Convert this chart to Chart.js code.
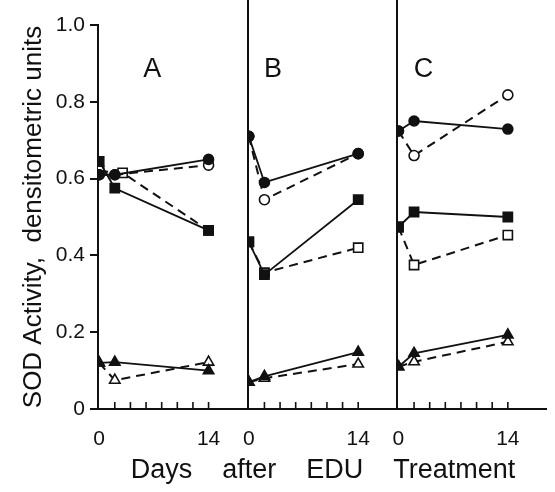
<!DOCTYPE html>
<html>
<head>
<meta charset="utf-8">
<script src="https://cdn.jsdelivr.net/npm/chart.js@4/dist/chart.umd.min.js"></script>
<style>
  body { margin: 0; background: #fff; }
  #wrap { width: 555px; height: 492px; position: relative; }
</style>
</head>
<body>
<div id="wrap"><canvas id="sod"></canvas></div>
<script>
// days after treatment at which samples were taken
const days = [0, 2, 14];
const daysOpenSquareA = [0, 3, 14];
const panels = ["A", "B", "C"];
const yTicks = [0, 0.2, 0.4, 0.6, 0.8, 1.0];
const xTitle = "Days    after    EDU    Treatment";

// panel A
const filledCircleA = [0.61, 0.61, 0.65];
const openCircleA = [0.61, 0.61, 0.635];
const filledSquareA = [0.645, 0.575, 0.465];
const openSquareA = [0.62, 0.615, 0.465];
const filledTriA = [0.12, 0.122, 0.10];
const openTriA = [0.12, 0.075, 0.122];

// panel B
const filledCircleB = [0.71, 0.59, 0.665];
const openCircleB = [0.71, 0.545, 0.665];
const filledSquareB = [0.435, 0.35, 0.545];
const openSquareB = [0.435, 0.355, 0.42];
const filledTriB = [0.07, 0.085, 0.148];
const openTriB = [0.07, 0.08, 0.117];

// panel C
const filledCircleC = [0.724, 0.75, 0.729];
const openCircleC = [0.724, 0.66, 0.818];
const filledSquareC = [0.474, 0.513, 0.50];
const openSquareC = [0.474, 0.375, 0.453];
const filledTriC = [0.11, 0.145, 0.193];
const openTriC = [0.11, 0.123, 0.175];

const INK = "#111";
const FONT = "'Liberation Sans', Arial, sans-serif";

function series(xs, ys, axis, style, filled) {
  return {
    data: ys.map((v, i) => ({ x: xs[i], y: v })),
    xAxisID: axis,
    borderColor: INK,
    borderWidth: filled ? 1.8 : 2,
    borderDash: filled ? [] : [9, 6],
    pointStyle: style,
    pointRadius: style === "rect" ? 6.5 : style === "triangle" ? 6 : 5,
    pointBorderWidth: 1.6,
    pointBackgroundColor: filled ? INK : "#fff",
    pointBorderColor: INK,
    fill: false,
    tension: 0,
  };
}

// Chart.js paints dataset 0 last, so the filled markers go first
const datasets = [
  series(days, filledCircleA, "xA", "circle", true),
  series(days, filledSquareA, "xA", "rect", true),
  series(days, filledTriA, "xA", "triangle", true),
  series(days, openCircleA, "xA", "circle", false),
  series(daysOpenSquareA, openSquareA, "xA", "rect", false),
  series(days, openTriA, "xA", "triangle", false),

  series(days, filledCircleB, "xB", "circle", true),
  series(days, filledSquareB, "xB", "rect", true),
  series(days, filledTriB, "xB", "triangle", true),
  series(days, openCircleB, "xB", "circle", false),
  series(days, openSquareB, "xB", "rect", false),
  series(days, openTriB, "xB", "triangle", false),

  series(days, filledCircleC, "xC", "circle", true),
  series(days, filledSquareC, "xC", "rect", true),
  series(days, filledTriC, "xC", "triangle", true),
  series(days, openCircleC, "xC", "circle", false),
  series(days, openSquareC, "xC", "rect", false),
  series(days, openTriC, "xC", "triangle", false),
];

function xScale() {
  return {
    type: "linear",
    position: "bottom",
    stack: "days",
    stackWeight: 1,
    min: -0.15,
    max: 19,
    afterBuildTicks: (s) => {
      s.ticks = [0, 2, 4, 6, 8, 10, 12, 14].map((v) => ({ value: v }));
    },
    afterFit: (s) => {
      s.height = 83;
    },
    ticks: {
      autoSkip: false,
      maxRotation: 0,
      padding: 10,
      color: INK,
      font: { family: FONT, size: 21 },
      callback: (v) => (v === 0 || v === 14 ? String(v) : ""),
    },
    grid: { display: false },
    border: { display: true, color: INK, width: 2 },
  };
}

// panel letters, separators, inward day ticks and the shared x title
const panelDecor = {
  id: "panelDecor",
  afterDraw(chart) {
    const ctx = chart.ctx;
    const area = chart.chartArea;
    const y = chart.scales.y;
    ctx.save();
    ctx.strokeStyle = INK;
    ctx.lineWidth = 2;
    ["xB", "xC"].forEach((id) => {
      const x = Math.round(chart.scales[id].left);
      ctx.beginPath();
      ctx.moveTo(x, 0);
      ctx.lineTo(x, area.bottom);
      ctx.stroke();
    });
    ctx.lineWidth = 1.6;
    ["xA", "xB", "xC"].forEach((id) => {
      const s = chart.scales[id];
      s.ticks.filter((t) => t.value > 0).forEach((t) => {
        const x = s.getPixelForValue(t.value);
        ctx.beginPath();
        ctx.moveTo(x, area.bottom);
        ctx.lineTo(x, area.bottom - 7);
        ctx.stroke();
      });
    });
    ctx.fillStyle = INK;
    ctx.font = "27px " + FONT;
    ctx.textAlign = "center";
    ctx.textBaseline = "middle";
    const letterDay = [6.8, 3.1, 3.2];
    ["xA", "xB", "xC"].forEach((id, i) => {
      ctx.fillText(panels[i], chart.scales[id].getPixelForValue(letterDay[i]), y.getPixelForValue(0.885));
    });
    ctx.font = "27px " + FONT;
    ctx.fillText(xTitle, 323, area.bottom + 62);
    ctx.restore();
  },
};

new Chart(document.getElementById("sod"), {
  type: "line",
  data: { datasets },
  options: {
    responsive: true,
    maintainAspectRatio: false,
    animation: false,
    layout: { padding: { top: 25, right: 0, bottom: 0, left: 0 } },
    plugins: { legend: { display: false }, tooltip: { enabled: false } },
    scales: {
      xA: xScale(),
      xB: xScale(),
      xC: xScale(),
      y: {
        type: "linear",
        min: 0,
        max: 1.0,
        afterBuildTicks: (s) => {
          s.ticks = yTicks.map((v) => ({ value: v }));
        },
        afterFit: (s) => {
          s.width = 98;
        },
        ticks: {
          padding: 5,
          color: INK,
          font: { family: FONT, size: 21 },
          callback: (v) => (v === 0 ? "0" : v.toFixed(1)),
        },
        grid: { display: true, drawOnChartArea: false, drawTicks: true, tickLength: 8, color: INK, lineWidth: 2 },
        border: { display: true, color: INK, width: 2 },
        title: {
          display: true,
          text: "SOD Activity,  densitometric units",
          color: INK,
          font: { family: FONT, size: 26 },
          padding: { top: 18, bottom: 0 },
        },
      },
    },
  },
  plugins: [panelDecor],
});
</script>
</body>
</html>
